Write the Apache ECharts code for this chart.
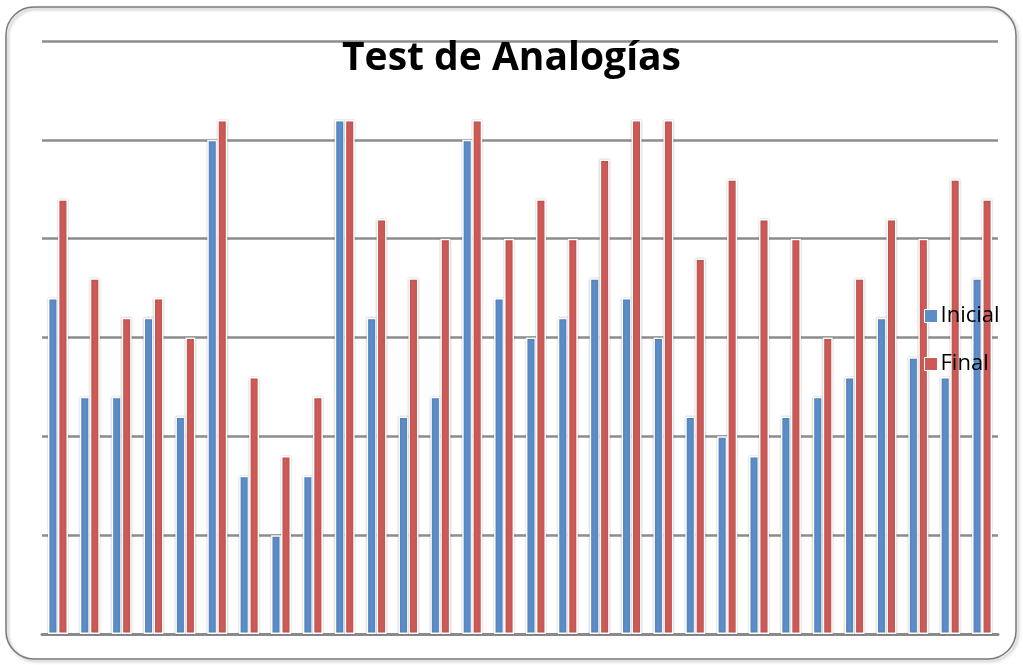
<!DOCTYPE html>
<html><head><meta charset="utf-8">
<script src="https://cdn.jsdelivr.net/npm/echarts@6/dist/echarts.min.js"></script>
<style>html,body{margin:0;padding:0;background:#fff}#c{width:1023px;height:665px}</style>
</head><body><div id="c"></div>
<script>
const categories = Array.from({length:30},(_, i)=>String(i+1));
const inicial = [17,12,12,16,11,25,8,5,8,26,16,11,12,25,17,15,16,18,17,15,11,10,9,11,12,13,16,14,13,18];
const final_ = [22,18,16,17,15,26,13,9,12,26,21,18,20,26,20,22,20,24,26,26,19,23,21,20,15,18,21,20,23,22];
const seriesNames = ['Inicial','Final'];
const colors = ['#5b8dc9','#cd5a56'];

const chart = echarts.init(document.getElementById('c'));
const barStyle = (c)=>({color:c, borderColor:'#ffffff', borderWidth:1.5, shadowColor:'rgba(0,0,0,0.25)', shadowBlur:2});
chart.setOption({
  animation:false,
  backgroundColor:'#fff',
  title:{text:'Test de Analogías', left:'center', top:34, textStyle:{fontFamily:'Open Sans', fontWeight:'bold', fontSize:39, color:'#000'}},
  graphic:[{type:'rect', shape:{x:6,y:7,width:1010,height:652,r:28}, style:{fill:'none', stroke:'#7a7a7a', lineWidth:1.5, shadowColor:'rgba(0,0,0,0.3)', shadowBlur:3, shadowOffsetX:2, shadowOffsetY:2}, z:-1}],
  legend:{orient:'vertical', left:919, top:300, itemWidth:13, itemHeight:13, itemGap:26, icon:'rect',
    itemStyle:{borderColor:'#fff', borderWidth:1},
    textStyle:{fontFamily:'Open Sans', fontSize:22, color:'#000', padding:[0,0,0,-2]},
    data:seriesNames},
  grid:{left:42, right:25, top:41, bottom:31},
  xAxis:{type:'category', data:categories, axisLabel:{show:false}, axisTick:{show:false},
    axisLine:{lineStyle:{color:'#8a8a8a', width:3}}},
  yAxis:{type:'value', min:0, max:30, interval:5, axisLabel:{show:false}, axisLine:{show:false}, axisTick:{show:false},
    splitLine:{lineStyle:{color:'#8c8c8c', width:2.5}}},
  series:[
    {name:seriesNames[0], type:'bar', data:inicial, barWidth:10, barGap:'0%', itemStyle:barStyle(colors[0])},
    {name:seriesNames[1], type:'bar', data:final_, barWidth:10, barGap:'0%', itemStyle:barStyle(colors[1])}
  ]
});
</script></body></html>
